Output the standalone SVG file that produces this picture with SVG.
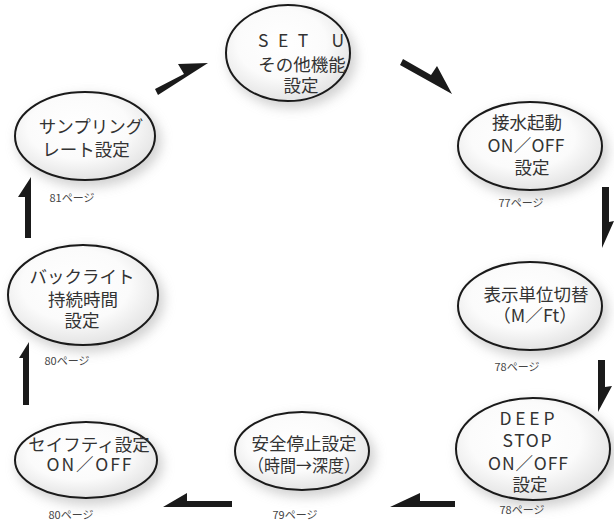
<svg xmlns="http://www.w3.org/2000/svg" width="614" height="523" viewBox="0 0 614 523">
<style>
.bg{fill:#ffffff}
.shadow{fill:#bdbdbd;opacity:0.7;filter:url(#blur)}
.el{fill:url(#inner);stroke:#1a1a1a;stroke-width:2}
.t{font-family:"Noto Sans CJK JP","Noto Sans",sans-serif;font-weight:400;font-size:17.5px;fill:#333333;text-anchor:middle}
.pg{font-family:"Noto Sans CJK JP","Noto Sans",sans-serif;font-weight:400;font-size:11px;fill:#444444;text-anchor:middle}
.ar{fill:#1a1a1a;stroke:none}
</style>
<defs>
<filter id="blur" x="-30%" y="-30%" width="160%" height="160%"><feGaussianBlur stdDeviation="6"/></filter>
<radialGradient id="inner" cx="45%" cy="40%" r="60%">
<stop offset="0" stop-color="#ffffff"/>
<stop offset="0.6" stop-color="#fbfbfb"/>
<stop offset="1" stop-color="#e4e4e4"/>
</radialGradient>
</defs>
<rect class="bg" x="0" y="0" width="614" height="523"/>

<g id="connectors">
<polygon class="ar" points="155,89 184,74 178,64 208,63 158,95"/>
<polygon class="ar" points="403,59 431,75 437,66 452,94 400,65"/>
<polygon class="ar" points="602,187 609,187 609,222 614,221 602,248"/>
<polygon class="ar" points="598,360 605,360 605,387 612,386 598,412"/>
<polygon class="ar" points="455,501 455,507 390,507 420,493 420,501"/>
<polygon class="ar" points="232,501 232,507 163,507 187,493 187,501"/>
<polygon class="ar" points="29,405 23,405 23,358 19,358 29,342"/>
<polygon class="ar" points="31,238 25,238 25,197 18,197 31,177"/>
</g>

<g id="node-setu">
<ellipse class="shadow" cx="292" cy="58" rx="64" ry="50"/>
<ellipse class="el" cx="288" cy="53" rx="62" ry="48"/>
<text class="t" x="301" y="47" font-size="18" textLength="86" lengthAdjust="spacing">SET U</text>
<text class="t" x="302" y="71">その他機能</text>
<text class="t" x="301" y="92">設定</text>
</g>

<g id="node-setsusui">
<ellipse class="shadow" cx="534" cy="151" rx="74" ry="46"/>
<ellipse class="el" cx="530" cy="146" rx="72" ry="44"/>
<text class="t" x="527" y="129">接水起動</text>
<text class="t" x="526" y="152" textLength="77" lengthAdjust="spacing">ON／OFF</text>
<text class="t" x="532" y="174">設定</text>
<text class="pg" x="521" y="207">77ページ</text>
</g>

<g id="node-unit">
<ellipse class="shadow" cx="534" cy="311" rx="74" ry="46"/>
<ellipse class="el" cx="530" cy="306" rx="72" ry="44"/>
<text class="t" x="536" y="301">表示単位切替</text>
<text class="t" x="535" y="322" textLength="84" lengthAdjust="spacingAndGlyphs">（M／Ft）</text>
<text class="pg" x="517" y="371">78ページ</text>
</g>

<g id="node-deepstop">
<ellipse class="shadow" cx="537" cy="454" rx="79" ry="53"/>
<ellipse class="el" cx="533" cy="449" rx="77" ry="51"/>
<text class="t" x="527" y="425" textLength="55" lengthAdjust="spacing">DEEP</text>
<text class="t" x="527" y="447" textLength="49" lengthAdjust="spacing">STOP</text>
<text class="t" x="528" y="470" textLength="80" lengthAdjust="spacing">ON／OFF</text>
<text class="t" x="530" y="491">設定</text>
<text class="pg" x="522" y="514">78ページ</text>
</g>

<g id="node-safety-stop">
<ellipse class="shadow" cx="306" cy="456" rx="69" ry="41"/>
<ellipse class="el" cx="302" cy="451" rx="67" ry="39"/>
<text class="t" x="304" y="450">安全停止設定</text>
<text class="t" x="304" y="472" textLength="112" lengthAdjust="spacingAndGlyphs">（時間→深度）</text>
<text class="pg" x="295" y="519">79ページ</text>
</g>

<g id="node-safety">
<ellipse class="shadow" cx="90" cy="465" rx="73" ry="40"/>
<ellipse class="el" cx="86" cy="460" rx="71" ry="38"/>
<text class="t" x="89" y="451">セイフティ設定</text>
<text class="t" x="89" y="471" textLength="85" lengthAdjust="spacing">ON／OFF</text>
<text class="pg" x="71" y="519">80ページ</text>
</g>

<g id="node-backlight">
<ellipse class="shadow" cx="87" cy="300" rx="77" ry="52"/>
<ellipse class="el" cx="83" cy="295" rx="75" ry="50"/>
<text class="t" x="82" y="283">バックライト</text>
<text class="t" x="83" y="306">持続時間</text>
<text class="t" x="82" y="327">設定</text>
<text class="pg" x="67" y="365">80ページ</text>
</g>

<g id="node-sampling">
<ellipse class="shadow" cx="89" cy="141" rx="72" ry="46"/>
<ellipse class="el" cx="85" cy="136" rx="70" ry="44"/>
<text class="t" x="91" y="133">サンプリング</text>
<text class="t" x="86" y="156">レート設定</text>
<text class="pg" x="72" y="202">81ページ</text>
</g>
</svg>
